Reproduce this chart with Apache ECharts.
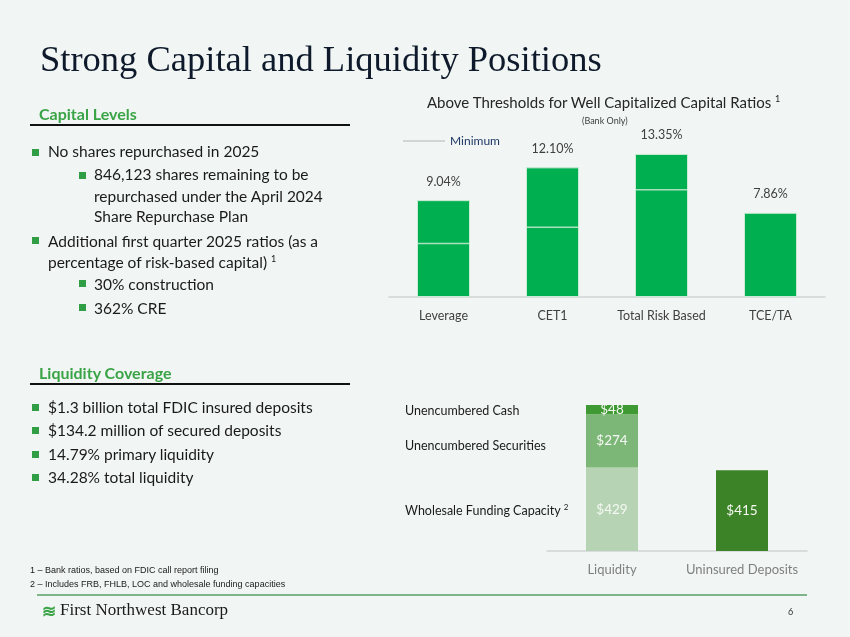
<!DOCTYPE html>
<html>
<head>
<meta charset="utf-8">
<script src="https://cdn.jsdelivr.net/npm/echarts@6/dist/echarts.min.js"></script>
<style>
  html, body { margin:0; padding:0; background:#f1f6f4; }
  #page { position:relative; width:850px; height:637px; overflow:hidden; background:#f1f6f4; font-family: Lato, "Open Sans", sans-serif; color:#1a1a1a; }
  #chart { position:absolute; left:0; top:0; width:850px; height:637px; }
  .t { position:absolute; white-space:nowrap; }
  .title { left:40px; top:37px; font-family:"Liberation Serif", "DejaVu Serif", serif; font-size:36.5px; color:#0e1a2b; }
  .hdr { font-size:16px; font-weight:bold; color:#3aa346; }
  .rule { position:absolute; height:1.5px; background:#111; }
  .b { font-size:15.5px; color:#1a1a1a; }
  .sq { position:absolute; width:7px; height:7px; background:#2f9e44; }
  .ct { font-size:15px; color:#262626; }
  .lab { font-size:12.5px; color:#1a1a1a; }
  .fn { font-size:9px; color:#1a1a1a; font-family:"Liberation Sans Narrow","Liberation Sans",sans-serif; }
</style>
</head>
<body>
<div id="page">
  <div id="chart"></div>
  <div class="t title">Strong Capital and Liquidity Positions</div>

  <div class="t hdr" style="left:39px;top:104px;">Capital Levels</div>
  <div class="rule" style="left:30px;top:124px;width:320px;"></div>

  <div class="sq" style="left:32px;top:149px;"></div>
  <div class="t b" style="left:48px;top:142px;">No shares repurchased in 2025</div>
  <div class="sq" style="left:79px;top:172px;"></div>
  <div class="t b" style="left:94px;top:165px;">846,123 shares remaining to be</div>
  <div class="t b" style="left:94px;top:187px;">repurchased under the April 2024</div>
  <div class="t b" style="left:94px;top:207px;">Share Repurchase Plan</div>
  <div class="sq" style="left:32px;top:237px;"></div>
  <div class="t b" style="left:48px;top:232px;">Additional first quarter 2025 ratios (as a</div>
  <div class="t b" style="left:48px;top:253px;">percentage of risk-based capital) <sup style="font-size:9px;">1</sup></div>
  <div class="sq" style="left:79px;top:280px;"></div>
  <div class="t b" style="left:94px;top:275px;">30% construction</div>
  <div class="sq" style="left:79px;top:304px;"></div>
  <div class="t b" style="left:94px;top:299px;">362% CRE</div>

  <div class="t hdr" style="left:39px;top:363px;">Liquidity Coverage</div>
  <div class="rule" style="left:30px;top:383px;width:320px;"></div>
  <div class="sq" style="left:32px;top:404px;"></div>
  <div class="t b" style="left:48px;top:398px;">$1.3 billion total FDIC insured deposits</div>
  <div class="sq" style="left:32px;top:427px;"></div>
  <div class="t b" style="left:48px;top:421px;">$134.2 million of secured deposits</div>
  <div class="sq" style="left:32px;top:451px;"></div>
  <div class="t b" style="left:48px;top:445px;">14.79% primary liquidity</div>
  <div class="sq" style="left:32px;top:474px;"></div>
  <div class="t b" style="left:48px;top:468px;">34.28% total liquidity</div>

  <div class="t ct" style="left:427px;top:93px;">Above Thresholds for Well Capitalized Capital Ratios <sup style="font-size:9px;">1</sup></div>
  <div class="t" style="left:582px;top:115px;font-size:9px;color:#404040;">(Bank Only)</div>

  <div class="t lab" style="left:405px;top:403px;">Unencumbered Cash</div>
  <div class="t lab" style="left:405px;top:438px;">Unencumbered Securities</div>
  <div class="t lab" style="left:405px;top:502px;">Wholesale Funding Capacity <sup style="font-size:8px;">2</sup></div>

  <div class="t fn" style="left:30px;top:565px;">1 – Bank ratios, based on FDIC call report filing</div>
  <div class="t fn" style="left:30px;top:579px;">2 – Includes FRB, FHLB, LOC and wholesale funding capacities</div>
  <div style="position:absolute;left:37px;top:594px;width:770px;height:2px;background:#7db48a;"></div>
  <div class="t" style="left:42px;top:600px;font-size:17px;color:#3aa346;font-weight:bold;">≋</div>
  <div class="t" style="left:60px;top:600px;font-family:'Liberation Serif',serif;font-size:17px;color:#1a1a1a;">First Northwest Bancorp</div>
  <div class="t" style="left:788px;top:606px;font-size:9px;color:#333;">6</div>
</div>
<script>
const ratioCategories = ['Leverage', 'CET1', 'Total Risk Based', 'TCE/TA'];
const ratioValues = [9.04, 12.10, 13.35, 7.86];
const minimumValues = [5, 6.5, 10, null];

const liqCategories = ['Liquidity', 'Uninsured Deposits'];
const wholesaleFunding = [429, null];
const unencSecurities = [274, null];
const unencCash = [48, null];
const uninsuredDeposits = [null, 415];

const chart = echarts.init(document.getElementById('chart'), null, {renderer:'canvas'});
const fontFam = 'Lato, "Open Sans", sans-serif';
chart.setOption({
  backgroundColor: 'transparent',
  animation: false,
  legend: {
    left: 398, top: 130,
    data: [{name:'Minimum', icon:'rect', itemStyle:{color:'#b9c3c0'}}],
    itemWidth: 42, itemHeight: 1.5, itemGap: 6,
    textStyle: {color:'#1f3864', fontSize:12, fontFamily: fontFam}
  },
  grid: [
    {left: 389, width: 436, top: 147, bottom: 340},
    {left: 547, width: 260, top: 395.5, bottom: 86}
  ],
  xAxis: [
    {type:'category', gridIndex:0, data: ratioCategories,
     axisLine:{lineStyle:{color:'#cfd4d3', width:1.5}}, axisTick:{show:false},
     axisLabel:{interval:0, color:'#404040', fontSize:12.5, fontFamily:fontFam, margin:12}},
    {type:'category', gridIndex:1, data: liqCategories,
     axisLine:{lineStyle:{color:'#cfd4d3', width:1.5}}, axisTick:{show:false},
     axisLabel:{interval:0, color:'#7f7f7f', fontSize:13, fontFamily:fontFam, margin:12}}
  ],
  yAxis: [
    {type:'value', gridIndex:0, min:0, max:14, show:false, splitLine:{show:false}},
    {type:'value', gridIndex:1, min:0, max:800, show:false, splitLine:{show:false}}
  ],
  series: [
    {name:'Ratio', type:'bar', xAxisIndex:0, yAxisIndex:0, data: ratioValues, barWidth:53,
     itemStyle:{color:'#00b050', borderColor:'#c9ead3', borderWidth:1},
     label:{show:true, position:'top', distance:12, color:'#404040', fontSize:12.5, fontFamily:fontFam,
            formatter: p => p.value.toFixed(2) + '%'}},
    {name:'Minimum', type:'scatter', xAxisIndex:0, yAxisIndex:0, data: minimumValues,
     symbol:'rect', symbolSize:[52, 1.5], itemStyle:{color:'#d3eedb'}, z:5},
    {name:'Wholesale Funding Capacity', type:'bar', stack:'liq', xAxisIndex:1, yAxisIndex:1,
     data: wholesaleFunding, barWidth:52, itemStyle:{color:'#b6d4b3'},
     label:{show:true, position:'inside', color:'#f5f8f3', fontSize:13.5, fontFamily:fontFam, formatter: p => '$' + p.value}},
    {name:'Unencumbered Securities', type:'bar', stack:'liq', xAxisIndex:1, yAxisIndex:1,
     data: unencSecurities, barWidth:52, itemStyle:{color:'#7db777'},
     label:{show:true, position:'inside', color:'#f5f8f3', fontSize:13.5, fontFamily:fontFam, formatter: p => '$' + p.value}},
    {name:'Unencumbered Cash', type:'bar', stack:'liq', xAxisIndex:1, yAxisIndex:1,
     data: unencCash, barWidth:52, itemStyle:{color:'#3f9a34'},
     label:{show:true, position:'inside', color:'#f5f8f3', fontSize:13.5, fontFamily:fontFam, formatter: p => '$' + p.value}},
    {name:'Uninsured Deposits', type:'bar', stack:'liq', xAxisIndex:1, yAxisIndex:1,
     data: uninsuredDeposits, barWidth:52, itemStyle:{color:'#3b8326'},
     label:{show:true, position:'inside', color:'#f5f8f3', fontSize:13.5, fontFamily:fontFam, formatter: p => '$' + p.value}}
  ]
});
</script>
</body>
</html>
